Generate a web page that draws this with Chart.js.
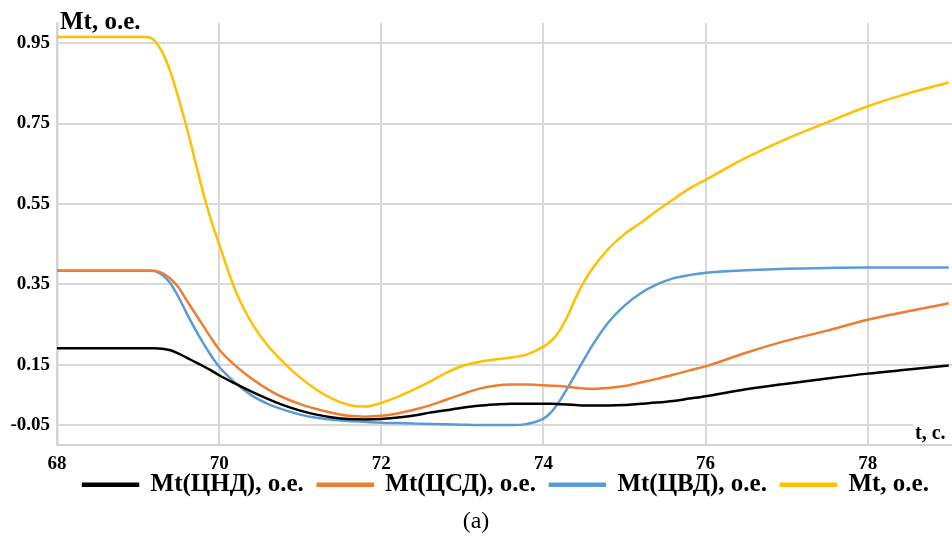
<!DOCTYPE html>
<html>
<head>
<meta charset="utf-8">
<script src="https://cdn.jsdelivr.net/npm/chart.js@4.4.1/dist/chart.umd.min.js"></script>
<style>
  html, body { margin: 0; padding: 0; background: #fff; }
  #wrap { width: 952px; height: 542px; }
</style>
</head>
<body>
<div id="wrap"><canvas id="chart" width="952" height="542"></canvas></div>
<script>
// time, s
var times = [68, 68.5, 69.0, 69.1, 69.2, 69.3, 69.4, 69.5, 69.6, 69.7, 69.8, 69.9, 70.0,
             70.2, 70.4, 70.6, 70.8, 71.0, 71.2, 71.4, 71.6, 71.8, 72.0, 72.2, 72.4, 72.6, 72.8,
             73.0, 73.2, 73.4, 73.6, 73.8,
             74.0, 74.1, 74.2, 74.3, 74.4, 74.5, 74.6,
             74.8, 75.0, 75.2, 75.4, 75.6, 75.8, 76.0,
             76.5, 77.0, 77.5, 78.0, 78.5, 79.0];

// torque per cylinder, p.u.
var mtCND = [0.191, 0.191, 0.191, 0.191, 0.191, 0.190, 0.186, 0.178, 0.168, 0.157, 0.147, 0.136, 0.124,
             0.103, 0.083, 0.065, 0.049, 0.036, 0.026, 0.019, 0.015, 0.014, 0.015, 0.019, 0.024, 0.031, 0.037,
             0.043, 0.048, 0.051, 0.053, 0.053,
             0.053, 0.053, 0.052, 0.051, 0.050, 0.049, 0.049,
             0.049, 0.050, 0.053, 0.056, 0.060, 0.066, 0.072,
             0.089, 0.103, 0.116, 0.128, 0.138, 0.148];
var mtCSD = [0.384, 0.384, 0.384, 0.384, 0.384, 0.378, 0.364, 0.342, 0.310, 0.279, 0.248, 0.217, 0.188,
             0.148, 0.116, 0.089, 0.068, 0.052, 0.040, 0.030, 0.023, 0.021, 0.023, 0.029, 0.038, 0.049, 0.063,
             0.077, 0.090, 0.098, 0.101, 0.101,
             0.099, 0.098, 0.097, 0.095, 0.093, 0.091, 0.090,
             0.092, 0.097, 0.106, 0.115, 0.125, 0.136, 0.146,
             0.180, 0.210, 0.235, 0.262, 0.283, 0.303];
var mtCVD = [0.384, 0.384, 0.384, 0.384, 0.383, 0.373, 0.352, 0.318, 0.278, 0.240, 0.205, 0.173, 0.145,
             0.105, 0.074, 0.053, 0.038, 0.026, 0.018, 0.013, 0.010, 0.008, 0.006, 0.005, 0.004, 0.003, 0.002,
             0.001, 0.000, 0.000, 0.000, 0.003,
             0.016, 0.033, 0.060, 0.093, 0.128, 0.163, 0.197,
             0.255, 0.297, 0.328, 0.350, 0.365, 0.373, 0.379,
             0.385, 0.389, 0.391, 0.392, 0.392, 0.392];
var mtTotal = [0.965, 0.965, 0.965, 0.965, 0.957, 0.927, 0.878, 0.812, 0.740, 0.660, 0.580, 0.510, 0.450,
               0.335, 0.255, 0.198, 0.155, 0.118, 0.088, 0.065, 0.050, 0.046, 0.055, 0.070, 0.088, 0.108, 0.130,
               0.147, 0.157, 0.163, 0.168, 0.176,
               0.195, 0.210, 0.235, 0.272, 0.317, 0.356, 0.388,
               0.438, 0.475, 0.503, 0.533, 0.561, 0.588, 0.610,
               0.665, 0.712, 0.753, 0.793, 0.825, 0.852];

var seriesNames = ['Mt(ЦНД), о.е.', 'Mt(ЦСД), о.е.', 'Mt(ЦВД), о.е.', 'Mt, о.е.'];
var seriesColors = ['#000000', '#ED7D31', '#5B9BD5', '#FFC000'];

var xTicks = [68, 70, 72, 74, 76, 78];
var yTicks = [0, 0.15, 0.35, 0.55, 0.75, 0.95];
var yTickLabels = ['-0.05', '0.15', '0.35', '0.55', '0.75', '0.95'];
var yTitle = 'Mt, о.е.';
var xTitle = 't, с.';
var caption = '(a)';

var serif = '"Liberation Serif", "Times New Roman", serif';

function points(vals) {
  return times.map(function(t, i) { return { x: t, y: vals[i] }; });
}

var datasets = [mtCND, mtCSD, mtCVD, mtTotal].map(function(vals, i) {
  return {
    label: seriesNames[i],
    data: points(vals),
    borderColor: seriesColors[i],
    backgroundColor: seriesColors[i],
    borderWidth: 2.5,
    pointRadius: 0,
    cubicInterpolationMode: 'monotone',
    fill: false
  };
});

var layoutTweaks = {
  id: 'layoutTweaks',
  beforeLayout: function(chart) {
    // legend takes less room than chart.js gives it, the x labels need the space
    var lg = chart.legend;
    if (lg && !lg._short) {
      lg._short = true;
      var fit = lg.fit;
      lg.fit = function() { fit.call(this); this.height -= 20; };
    }
  },
  afterLayout: function(chart) {
    // legend in the original sits a bit right of centre and close to the ticks
    var lg = chart.legend;
    lg.left += 30;
    lg.right += 30;
    lg.top -= 16;
    lg.bottom += 4;
  },
  afterDraw: function(chart) {
    // axis names drawn inside the plot corners, like the original
    var c = chart.ctx, a = chart.chartArea;
    c.save();
    c.fillStyle = '#fff';
    c.fillRect(a.right - 39, a.bottom - 29, 39, 27);
    c.fillStyle = '#000';
    c.textBaseline = 'alphabetic';
    c.textAlign = 'left';
    c.font = 'bold 25px ' + serif;
    c.fillText(yTitle, a.left + 3, 29);
    c.font = 'bold 20px ' + serif;
    c.fillText(xTitle, a.right - 37, a.bottom - 6);
    c.restore();
  }
};

Chart.defaults.color = '#000';

new Chart(document.getElementById('chart'), {
  type: 'line',
  data: { datasets: datasets },
  options: {
    responsive: false,
    animation: false,
    devicePixelRatio: 1,
    layout: { padding: { top: 23, right: 0, left: 0, bottom: 0 } },
    scales: {
      x: {
        type: 'linear',
        min: 68,
        max: 79.04,
        grid: { color: '#d9d9d9', lineWidth: 2, drawTicks: false },
        border: { color: '#d4d4d4', width: 2 },
        ticks: { autoSkip: false, maxRotation: 0, padding: 7, color: '#000',
                 font: { family: serif, size: 19, weight: 'bold' } },
        afterBuildTicks: function(s) { s.ticks = xTicks.map(function(v) { return { value: v }; }); },
        afterFit: function(s) { s.height = 29; }
      },
      y: {
        min: -0.05,
        max: 1.0,
        grid: { color: '#d9d9d9', lineWidth: 2, drawTicks: false },
        border: { color: '#d4d4d4', width: 2.5 },
        ticks: { autoSkip: false, padding: 7, color: '#000',
                 font: { family: serif, size: 19, weight: 'bold' },
                 callback: function(v, i) { return yTickLabels[i]; } },
        afterBuildTicks: function(s) { s.ticks = yTicks.map(function(v) { return { value: v }; }); },
        afterFit: function(s) { s.width = 57; }
      }
    },
    plugins: {
      legend: {
        position: 'bottom',
        labels: {
          boxWidth: 55,
          boxHeight: 2,
          padding: 14,
          color: '#000',
          font: { family: serif, size: 25, weight: 'bold' }
        }
      },
      title: {
        display: true,
        position: 'bottom',
        text: caption,
        color: '#000',
        font: { family: serif, size: 24, weight: 'normal' },
        padding: { top: 4, bottom: 6 }
      },
      tooltip: { enabled: false }
    }
  },
  plugins: [layoutTweaks]
});
</script>
</body>
</html>
